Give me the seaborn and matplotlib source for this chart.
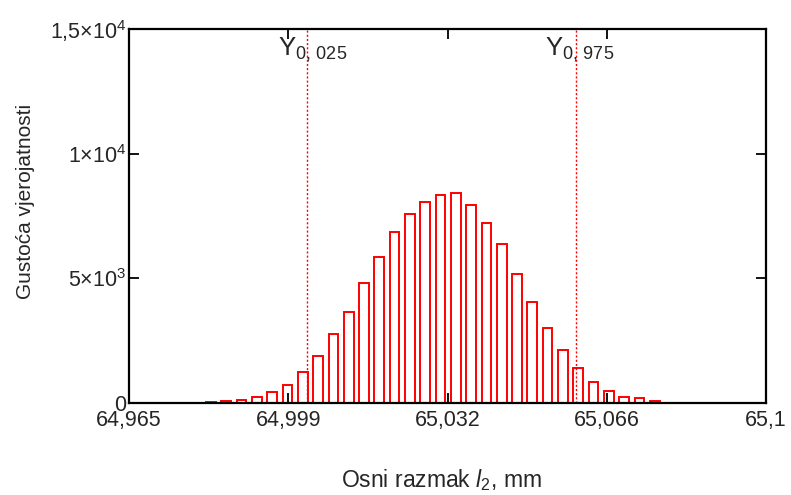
import numpy as np
import pandas as pd
import matplotlib
matplotlib.use("Agg")
import matplotlib.pyplot as plt
import matplotlib.transforms as mtransforms
import seaborn as sns

# ---- data ----
bin_centers = [64.97589, 64.97914, 64.98238, 64.98562, 64.98886, 64.99210, 64.99535,
               64.99859, 65.00183, 65.00508, 65.00832, 65.01156, 65.01480, 65.01805,
               65.02129, 65.02453, 65.02778, 65.03102, 65.03426, 65.03750, 65.04075,
               65.04399, 65.04723, 65.05047, 65.05372, 65.05696, 65.06020, 65.06344,
               65.06669, 65.06993, 65.07317, 65.07641, 65.07966, 65.08290, 65.08614]
density = [10, 15, 60, 80, 130, 240, 440,
           720, 1230, 1885, 2770, 3635, 4815, 5870,
           6845, 7580, 8050, 8345, 8410, 7940, 7205,
           6365, 5175, 4040, 3020, 2125, 1390, 840,
           470, 230, 190, 90, 20, 10, 5]
quantiles = [65.00279, 65.05967]
quantile_labels = [r"$\mathregular{Y_{0,\,025}}$", r"$\mathregular{Y_{0,\,975}}$"]
x_ticks = [64.965, 64.99875, 65.0325, 65.06625, 65.1]
x_tick_labels = ["64,965", "64,999", "65,032", "65,066", "65,1"]
y_ticks = [0, 5000, 10000, 15000]
y_tick_labels = ["0", r"$\mathregular{5{\times}10^{3}}$",
                 r"$\mathregular{1{\times}10^{4}}$", r"$\mathregular{1{,}5{\times}10^{4}}$"]

df = pd.DataFrame({"x": bin_centers, "w": density})

sns.set_style("white")
plt.rcParams["font.family"] = ["Liberation Sans", "DejaVu Sans"]
plt.rcParams["mathtext.fontset"] = "custom"
plt.rcParams["mathtext.rm"] = "Liberation Sans"
plt.rcParams["mathtext.it"] = "Liberation Sans:italic"

fig = plt.figure(figsize=(7.91, 4.95), dpi=100)
ax = fig.add_axes([129 / 791, 1 - 403 / 495, (766 - 129) / 791, (403 - 29) / 495])

c = np.array(bin_centers)
step = (c[-1] - c[0]) / (len(c) - 1)
sns.histplot(data=df, x="x", weights="w", bins=len(c),
             binrange=(c[0] - step / 2, c[-1] + step / 2), shrink=0.63, fill=False,
             color="#ff0000", linewidth=1.4, ax=ax, legend=False)

for q in quantiles:
    ax.axvline(q, color="#ff0000", linestyle=(0, (1.5, 1.5)), linewidth=1.0, zorder=0.5)

trans = mtransforms.blended_transform_factory(ax.transData, ax.transAxes)
label_x = [64.99658, 65.05316]
for lx, lab in zip(label_x, quantile_labels):
    ax.text(lx, 0.982, lab, transform=trans, ha="left", va="top", fontsize=18.5)

ax.set_xlim(64.965, 65.1)
ax.set_ylim(0, 15000)
ax.set_xticks(x_ticks)
ax.set_xticklabels(x_tick_labels)
ax.set_yticks(y_ticks)
ax.set_yticklabels(y_tick_labels)
ax.tick_params(axis="both", direction="in", length=7, width=1.3, labelsize=15.5,
               top=True, right=True, bottom=True, left=True, color="black")
ax.tick_params(axis="x", pad=5)
ax.tick_params(axis="y", pad=2)

for s in ax.spines.values():
    s.set_visible(True)
    s.set_color("black")
    s.set_linewidth(1.6)

ax.set_xlabel(r"Osni razmak $\mathit{l}_{\mathregular{2}}$, mm", fontsize=16.5)
ax.set_ylabel("Gustoća vjerojatnosti", fontsize=15)
ax.xaxis.set_label_coords(0.49, -0.172)
ax.yaxis.set_label_coords(-0.148, 0.54)

fig.savefig("out.png", dpi=100)
